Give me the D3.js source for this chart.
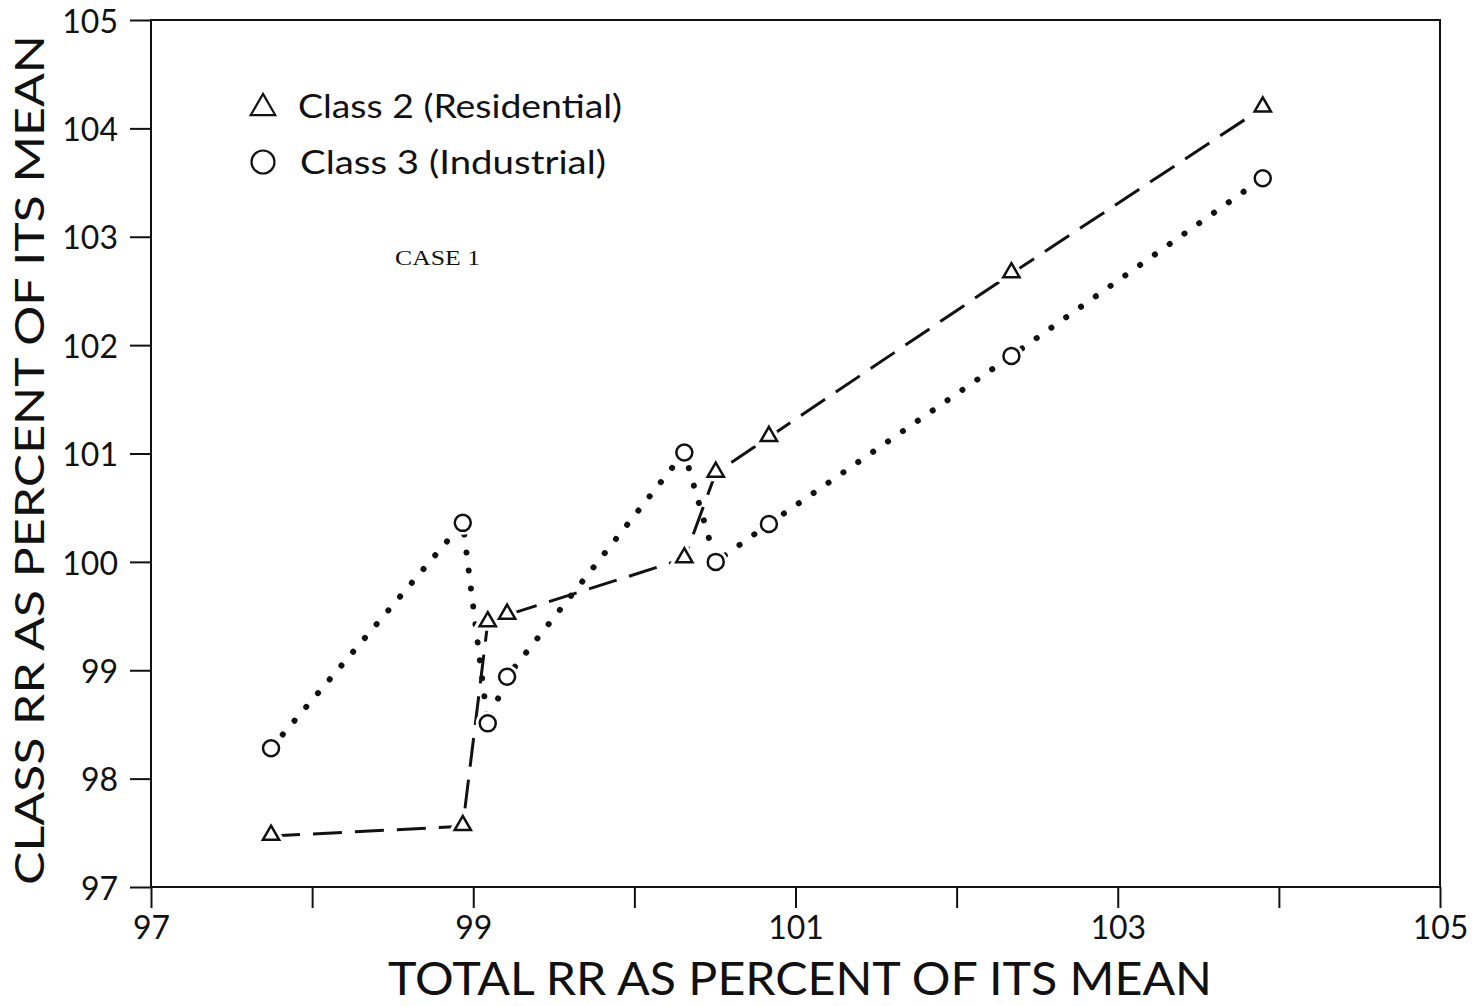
<!DOCTYPE html>
<html>
<head>
<meta charset="utf-8">
<script src="https://cdn.jsdelivr.net/npm/d3@7"></script>
<style>
    body { margin: 0; background: #fff; }
    svg { display: block; }
    text { font-family: Lato, "DejaVu Sans", sans-serif; fill: #111; }
</style>
</head>
<body>
<svg width="1479" height="1006"></svg>
<script>
// total RR (% of its mean), shared by both classes
var totalRR = [97.745, 98.935, 99.09, 99.21, 100.31, 100.505, 100.835, 102.34, 103.90];
var class2 = [97.47, 97.56, 99.44, 99.51, 100.03, 100.82, 101.15, 102.66, 104.19];
var class3 = [98.28, 100.36, 98.51, 98.94, 101.01, 100.00, 100.35, 101.90, 103.54];

var xTicks = [97, 98, 99, 100, 101, 102, 103, 104, 105];
var xTickLabels = ["97", "", "99", "", "101", "", "103", "", "105"];
var yTicks = [97, 98, 99, 100, 101, 102, 103, 104, 105];

var svg = d3.select("svg"),
    ink = "#111";

var x = d3.scaleLinear().domain([97, 105]).range([151, 1440]);
var y = d3.scaleLinear().domain([97, 105]).range([887, 20]);

// frame
svg.append("rect")
    .attr("x", x(97)).attr("y", y(105))
    .attr("width", x(105) - x(97)).attr("height", y(97) - y(105))
    .attr("fill", "none").attr("stroke", ink).attr("stroke-width", 2);

// x axis
var xAxis = svg.append("g")
    .attr("transform", "translate(0," + y(97) + ")")
    .call(d3.axisBottom(x).tickValues(xTicks).tickSize(21).tickPadding(8)
        .tickFormat(function(d, i) { return xTickLabels[i]; }));
xAxis.select(".domain").remove();
xAxis.selectAll("line").attr("stroke", ink).attr("stroke-width", 2);
xAxis.selectAll("text").style("font-size", "32px").attr("fill", ink)
    .style("font-family", "Lato, sans-serif");

// y axis
var yAxis = svg.append("g")
    .attr("transform", "translate(" + x(97) + ",0)")
    .call(d3.axisLeft(y).tickValues(yTicks).tickSize(21).tickPadding(12));
yAxis.select(".domain").remove();
yAxis.selectAll("line").attr("stroke", ink).attr("stroke-width", 2);
yAxis.selectAll("text").style("font-size", "32px").attr("fill", ink)
    .attr("dy", "0.38em")
    .style("font-family", "Lato, sans-serif");

// axis titles
svg.append("text")
    .attr("x", 800).attr("y", 995)
    .attr("text-anchor", "middle")
    .attr("textLength", 824).attr("lengthAdjust", "spacingAndGlyphs")
    .style("font-size", "47px")
    .text("TOTAL RR AS PERCENT OF ITS MEAN");

svg.append("text")
    .attr("transform", "translate(44,460) rotate(-90)")
    .attr("text-anchor", "middle")
    .attr("textLength", 850).attr("lengthAdjust", "spacingAndGlyphs")
    .style("font-size", "40px")
    .text("CLASS RR AS PERCENT OF ITS MEAN");

// series lines
var line2 = d3.line()
    .x(function(d, i) { return x(totalRR[i]); })
    .y(function(d) { return y(d); });

svg.append("path")
    .datum(class2)
    .attr("d", line2)
    .attr("fill", "none").attr("stroke", ink)
    .attr("stroke-width", 3)
    .attr("stroke-dasharray", "29,13");

svg.append("path")
    .datum(class3)
    .attr("d", line2)
    .attr("fill", "none").attr("stroke", ink)
    .attr("stroke-width", 6)
    .attr("stroke-linecap", "round")
    .attr("stroke-dasharray", "0.1,18");

// markers
var tri = d3.symbol().type(d3.symbolTriangle).size(115);

function addTriangles(vals) {
    var g = svg.append("g");
    g.selectAll(".halo").data(vals).enter().append("path")
        .attr("d", tri)
        .attr("transform", function(d, i) { return "translate(" + x(totalRR[i]) + "," + (y(d) - 1) + ")"; })
        .attr("fill", "#fff").attr("stroke", "#fff").attr("stroke-width", 9);
    g.selectAll(".mk").data(vals).enter().append("path")
        .attr("d", tri)
        .attr("transform", function(d, i) { return "translate(" + x(totalRR[i]) + "," + (y(d) - 1) + ")"; })
        .attr("fill", "#fff").attr("stroke", ink).attr("stroke-width", 2.5);
}

function addCircles(vals) {
    var g = svg.append("g");
    g.selectAll(".halo").data(vals).enter().append("circle")
        .attr("cx", function(d, i) { return x(totalRR[i]); })
        .attr("cy", function(d) { return y(d); })
        .attr("r", 8).attr("fill", "#fff").attr("stroke", "#fff").attr("stroke-width", 8);
    g.selectAll(".mk").data(vals).enter().append("circle")
        .attr("cx", function(d, i) { return x(totalRR[i]); })
        .attr("cy", function(d) { return y(d); })
        .attr("r", 8).attr("fill", "#fff").attr("stroke", ink).attr("stroke-width", 2.5);
}

addTriangles(class2);
addCircles(class3);

// legend
var legend = svg.append("g");
legend.append("path")
    .attr("d", d3.symbol().type(d3.symbolTriangle).size(260))
    .attr("transform", "translate(263,108)")
    .attr("fill", "none").attr("stroke", ink).attr("stroke-width", 2.2);
legend.append("text")
    .attr("x", 298).attr("y", 118)
    .attr("textLength", 324).attr("lengthAdjust", "spacingAndGlyphs")
    .style("font-size", "33px")
    .text("Class 2 (Residential)");
legend.append("circle")
    .attr("cx", 263).attr("cy", 162).attr("r", 11.5)
    .attr("fill", "none").attr("stroke", ink).attr("stroke-width", 2.2);
legend.append("text")
    .attr("x", 300).attr("y", 174)
    .attr("textLength", 306).attr("lengthAdjust", "spacingAndGlyphs")
    .style("font-size", "33px")
    .text("Class 3 (Industrial)");

svg.append("text")
    .attr("x", 395).attr("y", 265)
    .attr("textLength", 85).attr("lengthAdjust", "spacingAndGlyphs")
    .style("font-family", "'Liberation Serif', serif")
    .style("font-size", "20px")
    .text("CASE 1");
</script>
</body>
</html>
